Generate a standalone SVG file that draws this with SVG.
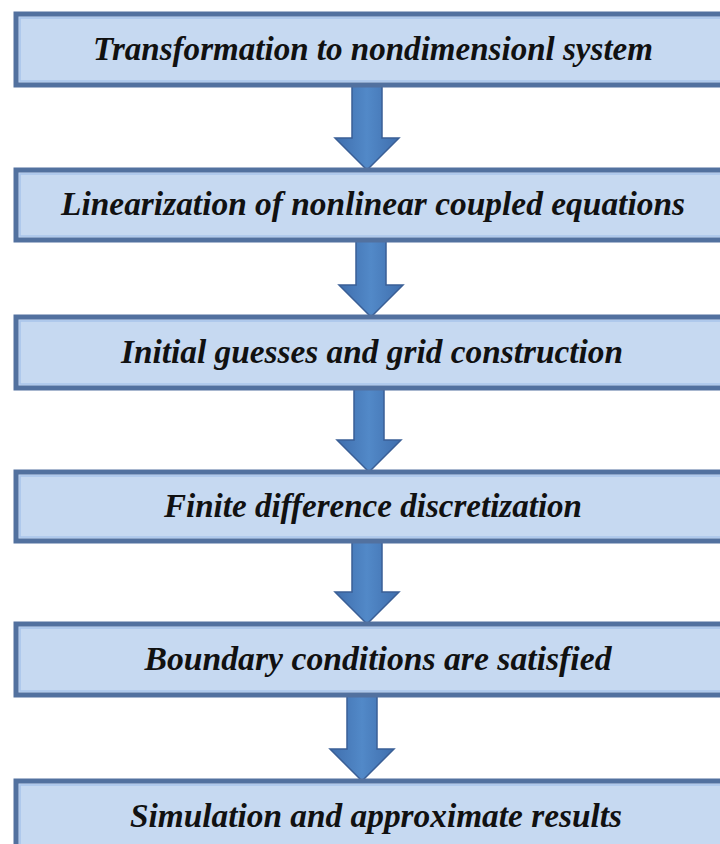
<svg xmlns="http://www.w3.org/2000/svg" width="720" height="844" viewBox="0 0 720 844">
<defs>
<linearGradient id="ag" x1="0" y1="0" x2="1" y2="0">
<stop offset="0" stop-color="#3f6ead"/>
<stop offset="0.5" stop-color="#5289c8"/>
<stop offset="1" stop-color="#3f6ead"/>
</linearGradient>
<style>
.box{fill:#c6d9f1;stroke:#52719f;stroke-width:5}
.inner{fill:none;stroke:#a8c4ea;stroke-width:1.5}
.lbl{font-family:"Liberation Serif","Times New Roman",serif;font-weight:bold;font-style:italic;font-size:33px;fill:#111;text-anchor:middle}
.arr{fill:url(#ag);stroke:#3a5f96;stroke-width:1.5;stroke-linejoin:miter}
</style>
</defs>
<rect width="720" height="844" fill="#ffffff"/>
<g id="connectors">
<path class="arr" d="M352,86 L382,86 L382,138 L399,138 L367,170 L335,138 L352,138 Z"/>
<path class="arr" d="M356,241 L386,241 L386,285 L403,285 L371,317 L339,285 L356,285 Z"/>
<path class="arr" d="M354,389 L384,389 L384,440 L401,440 L369,472 L337,440 L354,440 Z"/>
<path class="arr" d="M352,542 L382,542 L382,592 L399,592 L367,624 L335,592 L352,592 Z"/>
<path class="arr" d="M347,696 L377,696 L377,749 L394,749 L362,781 L330,749 L347,749 Z"/>
</g>
<g id="n1">
<rect class="box" x="16" y="14" width="720" height="71"/>
<rect class="inner" x="20" y="18" width="720" height="63"/>
<text class="lbl" x="373" y="60" textLength="560" lengthAdjust="spacingAndGlyphs">Transformation to nondimensionl system</text>
</g>
<g id="n2">
<rect class="box" x="16" y="170" width="720" height="70"/>
<rect class="inner" x="20" y="174" width="720" height="62"/>
<text class="lbl" x="373" y="215" textLength="624" lengthAdjust="spacingAndGlyphs">Linearization of nonlinear coupled equations</text>
</g>
<g id="n3">
<rect class="box" x="16" y="317" width="720" height="71"/>
<rect class="inner" x="20" y="321" width="720" height="63"/>
<text class="lbl" x="372" y="363" textLength="502" lengthAdjust="spacingAndGlyphs">Initial guesses and grid construction</text>
</g>
<g id="n4">
<rect class="box" x="16" y="472" width="720" height="69"/>
<rect class="inner" x="20" y="476" width="720" height="61"/>
<text class="lbl" x="373" y="517" textLength="418" lengthAdjust="spacingAndGlyphs">Finite difference discretization</text>
</g>
<g id="n5">
<rect class="box" x="16" y="624" width="720" height="71"/>
<rect class="inner" x="20" y="628" width="720" height="63"/>
<text class="lbl" x="378" y="670" textLength="467" lengthAdjust="spacingAndGlyphs">Boundary conditions are satisfied</text>
</g>
<g id="n6">
<rect class="box" x="16" y="781" width="720" height="80"/>
<rect class="inner" x="20" y="785" width="720" height="72"/>
<text class="lbl" x="376" y="827" textLength="492" lengthAdjust="spacingAndGlyphs">Simulation and approximate results</text>
</g>
</svg>
